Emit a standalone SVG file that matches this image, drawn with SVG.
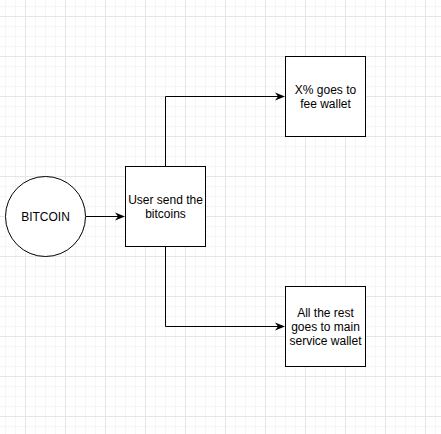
<svg xmlns="http://www.w3.org/2000/svg" width="441" height="434" viewBox="0 0 441 434">
<defs>
<pattern id="minor" x="5" y="6" width="10" height="10" patternUnits="userSpaceOnUse">
<path d="M0 0.5H10M0.5 0V10" fill="none" stroke="#f5f5f5" stroke-width="1"/>
</pattern>
<pattern id="major" x="25" y="16" width="40" height="40" patternUnits="userSpaceOnUse">
<path d="M0 0.5H40M0.5 0V40" fill="none" stroke="#e6e6e6" stroke-width="1"/>
</pattern>
<marker id="arr" viewBox="0 0 10 10" refX="9" refY="5" markerWidth="10" markerHeight="10" markerUnits="userSpaceOnUse" orient="auto">
<path d="M0 1L10 5L0 9L3 5Z" fill="#000"/>
</marker>
</defs>
<style>
.shape{fill:#fff;stroke:#000;stroke-width:1}
.lbl{font-family:"Liberation Sans",Arial,sans-serif;font-size:12px;fill:#000;text-anchor:middle}
.edge{fill:none;stroke:#000;stroke-width:1}
</style>
<rect width="441" height="434" fill="#fff"/>
<rect width="441" height="434" fill="url(#minor)"/>
<rect width="441" height="434" fill="url(#major)"/>
<g id="connectors">
<path class="edge" d="M86 216.5H124" marker-end="url(#arr)"/>
<path class="edge" d="M165.5 166V96.5H284" marker-end="url(#arr)"/>
<path class="edge" d="M165.5 247V326.5H284" marker-end="url(#arr)"/>
</g>
<g id="bitcoin">
<circle class="shape" cx="45.5" cy="216.5" r="40"/>
<text class="lbl" x="45.5" y="220.5">BITCOIN</text>
</g>
<g id="user">
<rect class="shape" x="125.5" y="166.5" width="80" height="80"/>
<text class="lbl" x="165.5" y="204">User send the</text>
<text class="lbl" x="165.5" y="218">bitcoins</text>
</g>
<g id="fee">
<rect class="shape" x="285.5" y="56.5" width="80" height="80"/>
<text class="lbl" x="325.5" y="94">X% goes to</text>
<text class="lbl" x="325.5" y="108">fee wallet</text>
</g>
<g id="main">
<rect class="shape" x="285.5" y="286.5" width="80" height="80"/>
<text class="lbl" x="325.5" y="317">All the rest</text>
<text class="lbl" x="325.5" y="331">goes to main</text>
<text class="lbl" x="325.5" y="345">service wallet</text>
</g>
</svg>
